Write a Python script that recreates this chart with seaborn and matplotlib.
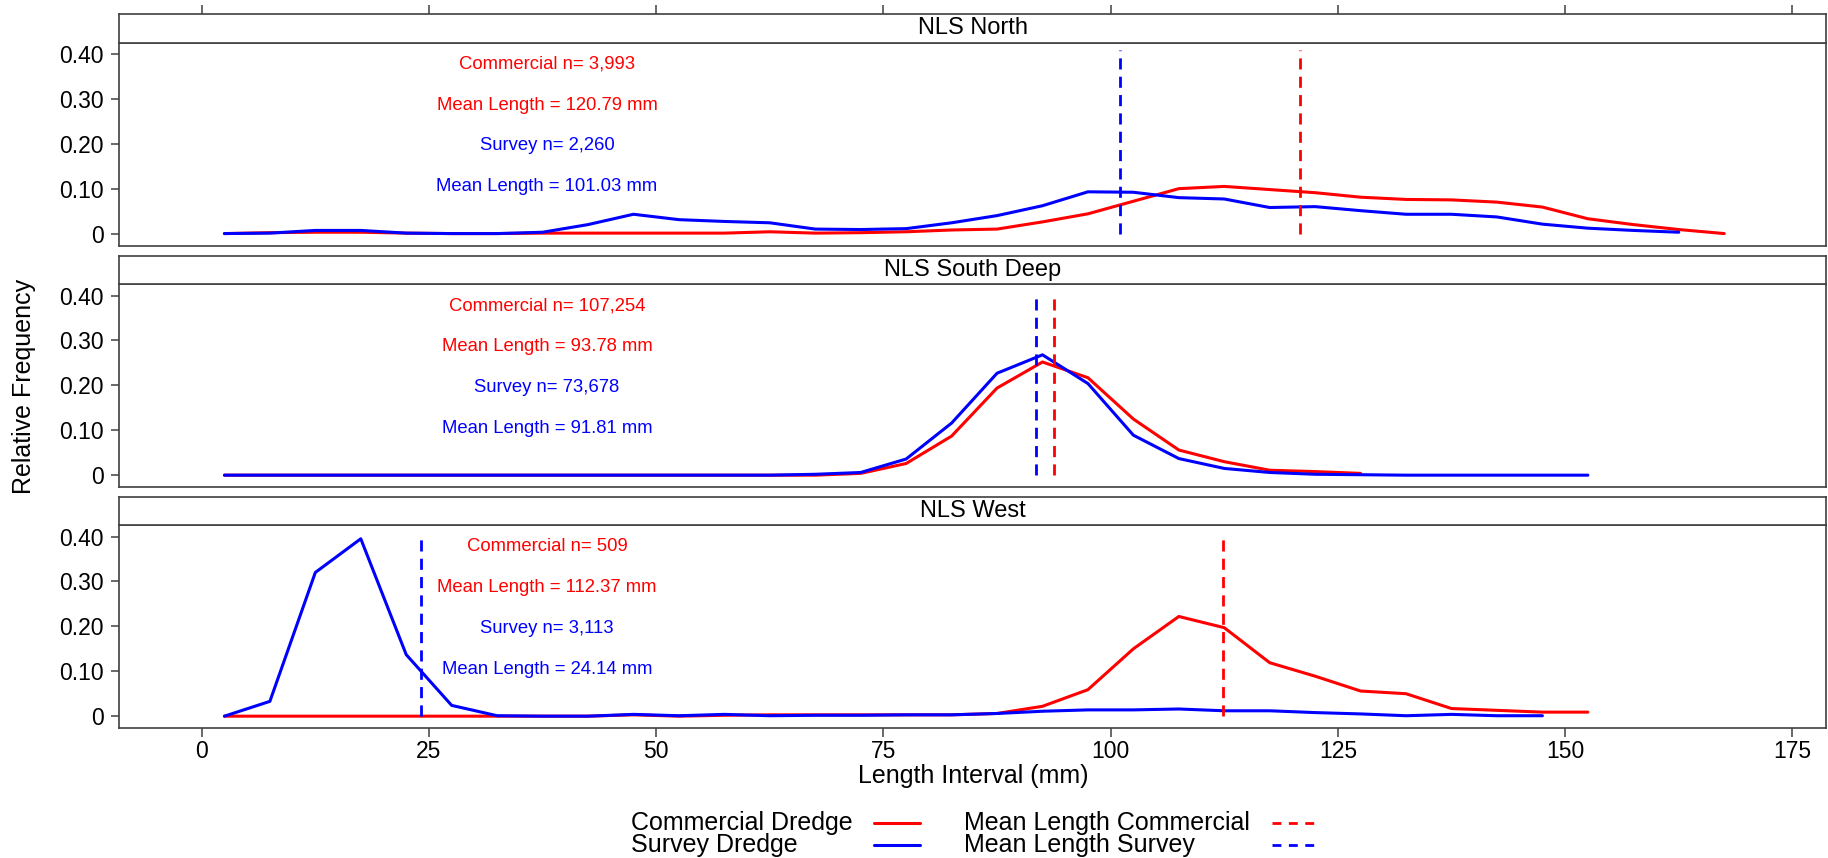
import numpy as np
import pandas as pd
import matplotlib
matplotlib.use("Agg")
import matplotlib.pyplot as plt
import seaborn as sns
from matplotlib.lines import Line2D

# ---------------- data ----------------
regions = ["NLS North", "NLS South Deep", "NLS West"]
gears = ["Commercial Dredge", "Survey Dredge"]
mean_labels = ["Mean Length Commercial", "Mean Length Survey"]

length_bins = [2.5, 7.5, 12.5, 17.5, 22.5, 27.5, 32.5, 37.5, 42.5, 47.5,
               52.5, 57.5, 62.5, 67.5, 72.5, 77.5, 82.5, 87.5, 92.5, 97.5,
               102.5, 107.5, 112.5, 117.5, 122.5, 127.5, 132.5, 137.5, 142.5,
               147.5, 152.5, 157.5, 162.5, 167.5]

north_commercial = [0.000, 0.002, 0.003, 0.003, 0.001, 0.000, 0.000, 0.001, 0.001, 0.001,
                    0.001, 0.001, 0.004, 0.001, 0.002, 0.004, 0.008, 0.010, 0.026, 0.044,
                    0.072, 0.100, 0.105, 0.098, 0.091, 0.081, 0.076, 0.075, 0.070, 0.059,
                    0.033, 0.020, 0.009, 0.000]
north_survey = [0.000, 0.001, 0.007, 0.007, 0.001, 0.000, 0.000, 0.003, 0.020, 0.043,
                0.031, 0.027, 0.024, 0.010, 0.009, 0.011, 0.024, 0.040, 0.062, 0.093,
                0.092, 0.080, 0.077, 0.058, 0.060, 0.051, 0.043, 0.043, 0.037, 0.021,
                0.012, 0.007, 0.003]

south_commercial = [0.000, 0.000, 0.000, 0.000, 0.000, 0.000, 0.000, 0.000, 0.000, 0.000,
                    0.000, 0.000, 0.000, 0.000, 0.004, 0.026, 0.087, 0.194, 0.252, 0.217,
                    0.125, 0.056, 0.030, 0.011, 0.008, 0.004]
south_survey = [0.000, 0.000, 0.000, 0.000, 0.000, 0.000, 0.000, 0.000, 0.000, 0.000,
                0.000, 0.000, 0.000, 0.002, 0.006, 0.036, 0.116, 0.227, 0.268, 0.204,
                0.089, 0.037, 0.015, 0.006, 0.002, 0.001, 0.000, 0.000, 0.000, 0.000,
                0.000]

west_commercial = [0.000, 0.000, 0.000, 0.000, 0.000, 0.000, 0.000, 0.000, 0.000, 0.003,
                   0.000, 0.002, 0.003, 0.003, 0.003, 0.003, 0.003, 0.006, 0.022, 0.059,
                   0.150, 0.222, 0.197, 0.119, 0.089, 0.056, 0.050, 0.017, 0.013, 0.009,
                   0.009]
west_survey = [0.000, 0.033, 0.320, 0.395, 0.137, 0.024, 0.001, 0.000, 0.000, 0.004,
               0.001, 0.004, 0.001, 0.002, 0.002, 0.003, 0.003, 0.006, 0.011, 0.014,
               0.014, 0.016, 0.012, 0.012, 0.008, 0.005, 0.001, 0.004, 0.001, 0.001]

commercial_n = ["3,993", "107,254", "509"]
survey_n = ["2,260", "73,678", "3,113"]
commercial_mean = [120.79, 93.78, 112.37]
survey_mean = [101.03, 91.81, 24.14]

x_ticks = [0, 25, 50, 75, 100, 125, 150, 175]
y_ticks = [0, 0.10, 0.20, 0.30, 0.40]
y_tick_labels = ["0", "0.10", "0.20", "0.30", "0.40"]

series = {
    "NLS North": (north_commercial, north_survey),
    "NLS South Deep": (south_commercial, south_survey),
    "NLS West": (west_commercial, west_survey),
}

# ---------------- style ----------------
sns.set_style("ticks")
plt.rcParams['font.family'] = ['Liberation Sans', 'DejaVu Sans']
plt.rcParams['text.color'] = 'black'
RED = "#FF0000"
BLUE = "#0000FF"
FRAME = "#404040"
palette = {gears[0]: RED, gears[1]: BLUE}
dash = (0, (4, 2.6))

W, H = 1828, 858
fig = plt.figure(figsize=(W / 100, H / 100), dpi=100)

left = 119 / W
width = (1826 - 119) / W
plot_tops = [42.7, 284.3, 525.3]
plot_h = 203.0
strip_h = 28.5
xlim = (-9.1, 178.7)
ylim = (-0.027, 0.425)

for i, reg in enumerate(regions):
    top = plot_tops[i]
    ax = fig.add_axes([left, 1 - (top + plot_h) / H, width, plot_h / H])
    sax = fig.add_axes([left, 1 - top / H, width, strip_h / H])

    comm, surv = series[reg]
    df = pd.concat([
        pd.DataFrame({"Length": length_bins[:len(comm)], "Freq": comm, "Gear": gears[0]}),
        pd.DataFrame({"Length": length_bins[:len(surv)], "Freq": surv, "Gear": gears[1]}),
    ], ignore_index=True)
    sns.lineplot(data=df, x="Length", y="Freq", hue="Gear", hue_order=gears,
                 palette=palette, linewidth=2.2, legend=False, ax=ax,
                 estimator=None, sort=True)

    ax.vlines(survey_mean[i], 0, 0.408, colors=BLUE, linestyles=dash, linewidth=2.0)
    ax.vlines(commercial_mean[i], 0, 0.408, colors=RED, linestyles=dash, linewidth=2.0)

    tx = 38
    ax.text(tx, 0.377, f"Commercial n= {commercial_n[i]}", color=RED, ha="center",
            va="center", fontsize=13.3)
    ax.text(tx, 0.286, f"Mean Length = {commercial_mean[i]:.2f} mm", color=RED,
            ha="center", va="center", fontsize=13.3)
    ax.text(tx, 0.195, f"Survey n= {survey_n[i]}", color=BLUE, ha="center",
            va="center", fontsize=13.3)
    ax.text(tx, 0.105, f"Mean Length = {survey_mean[i]:.2f} mm", color=BLUE,
            ha="center", va="center", fontsize=13.3)

    ax.set_xlim(*xlim)
    ax.set_ylim(*ylim)
    ax.set_xlabel("")
    ax.set_ylabel("")
    ax.set_yticks(y_ticks)
    ax.set_yticklabels(y_tick_labels)
    ax.set_xticks(x_ticks)
    ax.tick_params(axis="y", direction="out", length=6, width=1.1, color=FRAME,
                   labelcolor="black", labelsize=16.5, pad=5, right=False)
    if i < 2:
        ax.tick_params(axis="x", bottom=False, labelbottom=False, top=False)
    else:
        ax.tick_params(axis="x", direction="out", length=6.5, width=1.1, color=FRAME,
                       labelcolor="black", labelsize=16.5, pad=2, top=False)
    for sp in ax.spines.values():
        sp.set_visible(True)
        sp.set_color(FRAME)
        sp.set_linewidth(1.2)

    # strip
    sax.set_xlim(*xlim)
    sax.set_ylim(0, 1)
    sax.set_yticks([])
    sax.set_facecolor("white")
    if i == 0:
        sax.set_xticks(x_ticks)
        sax.tick_params(axis="x", top=True, bottom=False, labeltop=False,
                        labelbottom=False, direction="out", length=6.5, width=1.1,
                        color=FRAME)
    else:
        sax.set_xticks([])
    for sp in sax.spines.values():
        sp.set_visible(True)
        sp.set_color(FRAME)
        sp.set_linewidth(1.2)
    sax.text(0.5, 0.5, reg, transform=sax.transAxes, ha="center", va="center",
             fontsize=17, color="black")

# axis labels
fig.text(24 / W, 1 - 386 / H, "Relative Frequency", rotation=90, ha="center",
         va="center", fontsize=18, color="black")
fig.text(973 / W, 1 - 776 / H, "Length Interval (mm)", ha="center", va="center",
         fontsize=18, color="black")

# legend
rows_y = [823, 845]
colors = [RED, BLUE]
for j in range(2):
    yy = 1 - rows_y[j] / H
    fig.text(631 / W, yy, gears[j], ha="left", va="center", fontsize=18, color="black")
    fig.add_artist(Line2D([874 / W, 920 / W], [yy, yy], color=colors[j], lw=2.2))
    fig.text(964 / W, yy, mean_labels[j], ha="left", va="center", fontsize=18,
             color="black")
    fig.add_artist(Line2D([1272 / W, 1314 / W], [yy, yy], color=colors[j], lw=2.0,
                          linestyle=(0, (3.2, 2.7))))

fig.savefig("out.png", dpi=100, facecolor="white")
